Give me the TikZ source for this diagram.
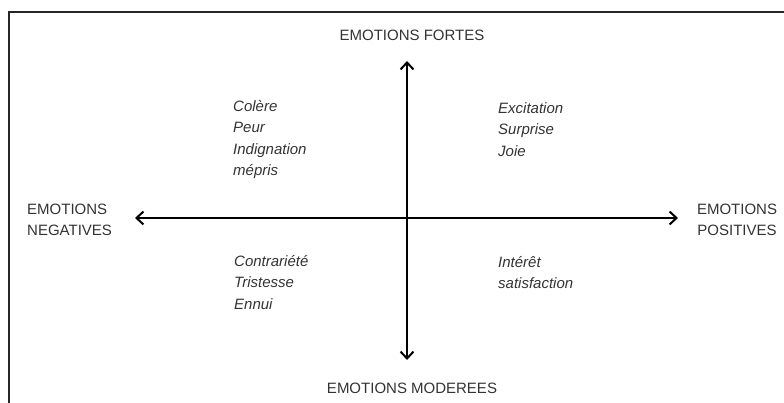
\documentclass[tikz,border=0pt]{standalone}
\usepackage{fontspec}
\setmainfont{Liberation Sans}
\usepackage{xcolor}
\usetikzlibrary{arrows.meta}

\definecolor{texte}{HTML}{333333}

\begin{document}
\begin{tikzpicture}[x=1pt,y=-1pt,
  titre/.style={text=texte,font=\fontsize{15}{21.5}\selectfont,inner sep=0pt},
  liste/.style={text=texte,font=\fontsize{15}{21.5}\selectfont\itshape,align=left,anchor=north west,inner sep=0pt},
  axe/.style={line width=2pt,{Straight Barb[length=7pt,width=13pt]}-{Straight Barb[length=7pt,width=13pt]}}]
\useasboundingbox (0,0) rectangle (784,403);
% cadre
\draw[line width=1.3pt,color=black!85] (9,403) -- (9,12) -- (784,12);

\coordinate (haut) at (407,61);
\coordinate (bas) at (407,360);
\coordinate (gauche) at (135,218);
\coordinate (droite) at (678,218);

\node [titre] (fortes) at (412,35) {EMOTIONS FORTES};
\node [titre] (moderees) at (412,388) {EMOTIONS MODEREES};
\node [titre,align=left,anchor=west] (negatives) at (27,220) {EMOTIONS\\NEGATIVES};
\node [titre,align=center] (positives) at (737,220) {EMOTIONS\\POSITIVES};

\draw[axe] (bas) -- (haut);
\draw[axe] (gauche) -- (droite);

\node [liste] (colere) at (233,100) {Colère\\Peur\\Indignation\\mépris};
\node [liste] (excitation) at (498,102) {Excitation\\Surprise\\Joie};
\node [liste] (contrariete) at (234,255) {Contrariété\\Tristesse\\Ennui};
\node [liste] (interet) at (498,256) {Intérêt\\satisfaction};
\end{tikzpicture}
\end{document}
